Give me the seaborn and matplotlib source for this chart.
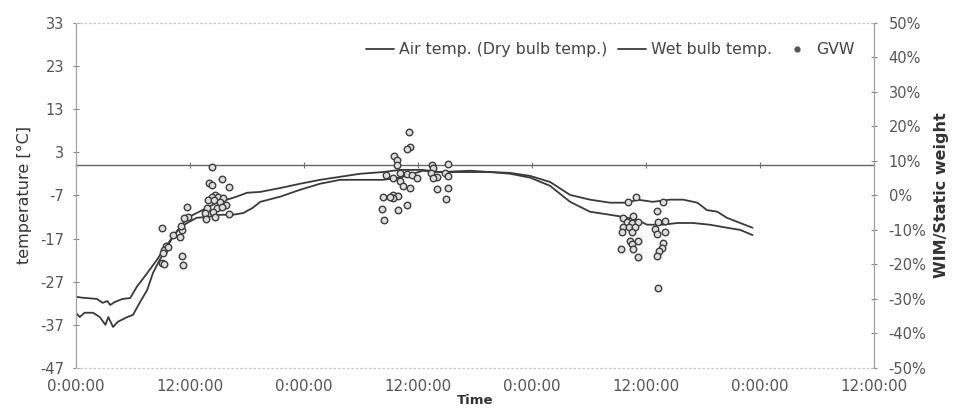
import numpy as np
import pandas as pd
import matplotlib
matplotlib.use("Agg")
import matplotlib.pyplot as plt
import seaborn as sns
from matplotlib.lines import Line2D

# ---- data (hours since start, °C / %) ----
air_hours = [0.0, 0.6, 2.2, 2.8, 3.3, 3.6, 4.1, 4.9, 5.7, 6.4, 7.5, 8.5, 9.2, 10.2, 11.0, 11.7,
             12.7, 13.8, 14.8, 15.9, 16.9, 18.0, 19.4, 21.5, 23.6, 25.7, 27.8, 29.9, 32.3, 34.1,
             36.5, 38.3, 41.5, 43.6, 45.7, 47.8, 49.9, 52.0, 54.1, 56.2, 58.0, 59.1, 60.7, 62.5,
             63.9, 65.4, 66.4, 67.5, 68.5, 69.9, 71.2]
air_temp = [-30.5, -30.7, -31.0, -31.9, -31.5, -32.4, -31.7, -31.0, -30.8, -28.2, -25.0, -22.0,
            -19.6, -16.6, -14.3, -12.2, -11.1, -9.9, -8.7, -8.0, -7.3, -6.4, -6.2, -5.3, -4.3,
            -3.4, -2.7, -2.0, -1.6, -1.1, -1.1, -1.6, -1.3, -1.6, -1.8, -2.5, -3.9, -6.9, -8.0,
            -8.7, -8.7, -8.0, -8.5, -8.0, -8.0, -8.7, -10.4, -10.8, -12.2, -13.4, -14.5]

wet_hours = [0.0, 0.4, 0.9, 1.8, 2.5, 3.1, 3.4, 3.9, 4.4, 5.4, 6.0, 6.7, 7.5, 8.1, 8.8, 9.6,
             10.2, 10.9, 11.7, 12.7, 13.8, 15.2, 16.5, 17.6, 18.6, 19.4, 21.5, 23.6, 25.7, 27.8,
             29.9, 32.3, 34.1, 36.5, 38.3, 41.5, 43.6, 45.7, 47.8, 49.9, 52.0, 54.1, 56.2, 57.6,
             59.1, 60.1, 61.8, 63.3, 64.9, 66.7, 68.5, 69.9, 71.2]
wet_temp = [-34.2, -35.2, -34.2, -34.2, -35.2, -37.0, -35.2, -37.5, -36.3, -35.2, -34.7, -31.9,
            -28.9, -25.0, -22.0, -18.9, -16.6, -14.5, -13.4, -12.2, -12.0, -11.5, -11.5, -11.1,
            -9.9, -8.5, -7.3, -5.7, -4.3, -3.4, -3.4, -3.4, -2.9, -1.3, -1.6, -1.6, -1.6, -2.0,
            -2.9, -4.8, -8.5, -10.8, -11.5, -12.0, -12.7, -13.8, -13.8, -13.4, -13.4, -13.8,
            -14.5, -15.0, -16.2]

gvw_hours = [14.3, 15.4, 14.0, 14.3, 16.1, 14.6, 14.3, 14.9, 15.5, 13.9, 14.5, 15.2, 11.7, 15.8,
             13.8, 14.8, 15.4, 14.4, 13.6, 16.1, 11.8, 11.4, 13.7, 14.6, 9.1, 11.2, 10.9, 10.2,
             9.5, 9.3, 9.2, 11.2, 9.1, 9.3, 11.3, 9.7, 11.1,
             35.1, 35.2, 34.8, 33.5, 33.8, 33.8, 37.5, 39.1, 37.6, 32.6, 34.1, 34.8, 35.4, 37.4,
             38.8, 33.4, 34.1, 35.9, 38.0, 39.1, 34.4, 35.2, 38.0, 39.1, 32.3, 33.4, 33.9, 33.4,
             34.8, 32.2, 33.9, 32.4, 38.9, 37.6, 33.1,
             58.9, 58.1, 61.8, 61.1, 57.6, 58.6, 58.0, 58.5, 59.1, 57.6, 58.2, 58.8, 57.5, 58.5,
             61.3, 62.0, 60.9, 62.0, 61.2, 58.3, 59.1, 58.5, 58.6, 57.4, 61.8, 61.7, 61.4, 61.2,
             59.1, 61.3]
gvw_pct = [8.3, 4.8, 3.6, 3.0, 2.5, 0.1, -0.4, -0.4, -0.7, -1.3, -1.3, -1.9, -3.3, -2.8, -3.6,
           -3.6, -3.3, -4.8, -5.1, -5.4, -6.2, -6.5, -6.8, -6.2, -9.4, -10.0, -12.0, -11.4, -14.6,
           -15.8, -16.7, -17.5, -19.6, -19.9, -20.1, -14.9, -8.8,
           18.4, 14.1, 13.5, 11.4, 10.3, 8.8, 8.8, 9.1, 8.0, 5.9, 6.5, 6.2, 5.9, 6.5, 6.5, 5.1,
           4.2, 5.1, 5.4, 5.7, 2.8, 2.2, 1.9, 2.2, -0.4, 0.1, -0.1, -0.7, -2.8, -3.9, -4.2, -7.1,
           -1.0, 5.1, -0.4,
           -0.4, -1.9, -1.9, -4.5, -6.5, -5.9, -7.7, -8.0, -7.7, -9.1, -9.1, -9.1, -10.6, -10.6,
           -7.7, -7.4, -9.7, -10.6, -11.2, -13.2, -13.2, -14.1, -15.5, -15.5, -13.8, -15.2,
           -16.1, -17.5, -17.8, -26.8]

x_ticks = [0, 12, 24, 36, 48, 60, 72, 84]
x_labels = ["0:00:00", "12:00:00", "0:00:00", "12:00:00", "0:00:00", "12:00:00", "0:00:00", "12:00:00"]
temp_ticks = [33, 23, 13, 3, -7, -17, -27, -37, -47]
pct_ticks = [50, 40, 30, 20, 10, 0, -10, -20, -30, -40, -50]

air_df = pd.DataFrame({"hours": air_hours, "temp": air_temp})
wet_df = pd.DataFrame({"hours": wet_hours, "temp": wet_temp})
gvw_df = pd.DataFrame({"hours": gvw_hours, "pct": gvw_pct})

sns.set_style("white")
plt.rcParams["font.family"] = ["DejaVu Sans"]

fig = plt.figure(figsize=(9.57, 4.13), dpi=100)
ax = fig.add_axes([0.0794, 0.109, 0.834, 0.836])
ax2 = ax.twinx()

tick_col = "#555555"
line_col = "#3a3a3a"

sns.lineplot(data=air_df, x="hours", y="temp", ax=ax, color=line_col, linewidth=1.3,
             estimator=None, sort=False, legend=False)
sns.lineplot(data=wet_df, x="hours", y="temp", ax=ax, color=line_col, linewidth=1.3,
             estimator=None, sort=False, legend=False)
sns.scatterplot(data=gvw_df, x="hours", y="pct", ax=ax2, s=22, facecolor="#dedede",
                edgecolor="#3c3c3c", linewidth=1.0, legend=False, zorder=3)

ymin, ymax = -47, 33
ax.set_xlim(0, 84)
ax.set_ylim(ymin, ymax)
ax2.set_ylim(-50, 50)

ax.set_xticks(x_ticks)
ax.set_xticklabels(x_labels)
ax.set_yticks(temp_ticks)
ax.set_yticklabels([str(t) for t in temp_ticks])
ax2.set_yticks(pct_ticks)
ax2.set_yticklabels([f"{p}%" for p in pct_ticks])

ax.tick_params(axis="x", length=0, labelsize=10.8, labelcolor=tick_col, pad=8)
ax.tick_params(axis="y", direction="inout", length=5, width=0.8, color="#888888",
               labelsize=10.5, labelcolor=tick_col, pad=6)
ax2.tick_params(axis="y", direction="inout", length=5, width=0.8, color="#888888",
                labelsize=10.5, labelcolor=tick_col, pad=8)

for a in (ax, ax2):
    for s in ("top", "bottom"):
        a.spines[s].set_color("#c8c8c8")
        a.spines[s].set_linestyle((0, (1, 3)))
        a.spines[s].set_linewidth(0.8)
    for s in ("left", "right"):
        a.spines[s].set_color("#a0a0a0")
        a.spines[s].set_linewidth(0.8)

ax.set_xlabel("Time", fontsize=9.5, fontweight="bold", color="#333333", labelpad=0)
ax.set_ylabel("temperature [°C]", fontsize=11.5, color="#333333", labelpad=6)
ax2.set_ylabel("WIM/Static weight", fontsize=11.5, fontweight="bold", color="#333333", labelpad=5)

# zero-degree category axis line with small tick marks
zero_loc = (0 - ymin) / (ymax - ymin)
sec = ax.secondary_xaxis(zero_loc)
sec.set_xticks(x_ticks)
sec.tick_params(axis="x", direction="inout", length=5, width=0.8, color="#777777",
                labelbottom=False, labeltop=False)
for s in sec.spines.values():
    s.set_color("#666666")
    s.set_linewidth(1.0)

handles = [
    Line2D([], [], color=line_col, linewidth=1.3),
    Line2D([], [], color=line_col, linewidth=1.3),
    Line2D([], [], color="#555555", marker="o", linestyle="none", markersize=3.5),
]
labels = ["Air temp. (Dry bulb temp.)", "Wet bulb temp.", "GVW"]
leg = ax2.legend(handles, labels, ncol=3, loc="upper right", bbox_to_anchor=(0.993, 0.985),
                 frameon=False, fontsize=11.3, handlelength=1.8, handletextpad=0.3,
                 columnspacing=0.7, labelcolor="#444444")

fig.savefig("out.png", dpi=100)
